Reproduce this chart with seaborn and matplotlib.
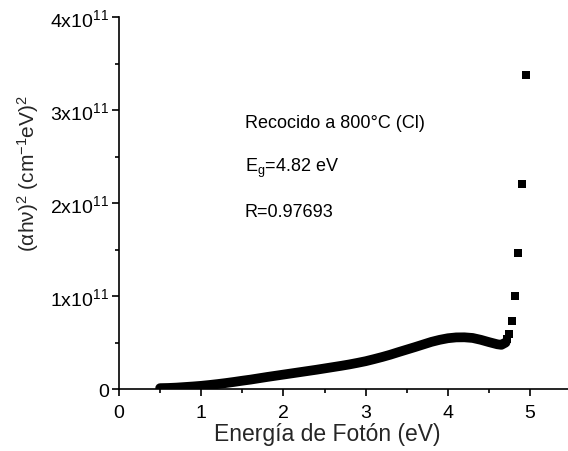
import matplotlib
matplotlib.use("Agg")
import matplotlib.pyplot as plt
import seaborn as sns
import pandas as pd
from matplotlib.ticker import MultipleLocator, FixedLocator, FixedFormatter

# Dense part of the curve (photon energy in eV, (alpha h nu)^2 in units of 1e11)
energy_dense = [0.5, 0.6, 0.7, 0.8, 0.9, 1.0, 1.1, 1.2, 1.3, 1.4, 1.5, 1.6, 1.7, 1.8,
                1.9, 2.0, 2.1, 2.2, 2.3, 2.4, 2.5, 2.6, 2.7, 2.8, 2.9, 3.0, 3.1, 3.2,
                3.3, 3.4, 3.5, 3.6, 3.7, 3.8, 3.9, 4.0, 4.1, 4.2, 4.3, 4.4, 4.5, 4.6,
                4.65, 4.7]
value_dense = [0.010, 0.012, 0.016, 0.022, 0.028, 0.035, 0.044, 0.054, 0.065, 0.077,
               0.090, 0.102, 0.116, 0.130, 0.143, 0.156, 0.169, 0.182, 0.195, 0.208,
               0.222, 0.236, 0.250, 0.265, 0.282, 0.300, 0.322, 0.345, 0.370, 0.398,
               0.425, 0.452, 0.480, 0.508, 0.530, 0.547, 0.556, 0.557, 0.550, 0.530,
               0.505, 0.482, 0.476, 0.500]
# Separated points near the absorption edge
energy_edge = [4.72, 4.748, 4.777, 4.818, 4.858, 4.899, 4.951]
value_edge = [0.535, 0.59, 0.735, 1.00, 1.464, 2.207, 3.38]

y_ticks = [0, 1e11, 2e11, 3e11, 4e11]
y_tick_labels = ["0", "1x10$^{11}$", "2x10$^{11}$", "3x10$^{11}$", "4x10$^{11}$"]
x_ticks = [0, 1, 2, 3, 4, 5]
annotations = ["Recocido a 800°C (Cl)", "E$_{g}$=4.82 eV", "R=0.97693"]

sns.set_style("ticks")
plt.rcParams["font.family"] = ["Liberation Sans", "DejaVu Sans"]
plt.rcParams["mathtext.fontset"] = "custom"
plt.rcParams["mathtext.rm"] = "Liberation Sans"
plt.rcParams["mathtext.it"] = "Liberation Sans"
plt.rcParams["mathtext.bf"] = "Liberation Sans:bold"
plt.rcParams["mathtext.default"] = "regular"

df_dense = pd.DataFrame({"E": energy_dense, "v": [v * 1e11 for v in value_dense]})
df_edge = pd.DataFrame({"E": energy_edge, "v": [v * 1e11 for v in value_edge]})

fig = plt.figure(figsize=(5.68, 4.52), dpi=100)
ax = fig.add_axes([0.2095, 0.137, 0.7905, 0.8225])

sns.lineplot(data=df_dense, x="E", y="v", ax=ax, color="black", linewidth=7,
             solid_capstyle="round", sort=False)
sns.scatterplot(data=df_edge, x="E", y="v", ax=ax, color="black", marker="s",
                s=26, linewidth=0)

ax.set_xlim(0, 5.46)
ax.set_ylim(0, 4e11)
ax.set_xticks(x_ticks)
ax.xaxis.set_minor_locator(MultipleLocator(0.5))
ax.yaxis.set_major_locator(FixedLocator(y_ticks))
ax.yaxis.set_major_formatter(FixedFormatter(y_tick_labels))
ax.yaxis.set_minor_locator(MultipleLocator(0.5e11))

for s in ["top", "right"]:
    ax.spines[s].set_visible(False)
for s in ["left", "bottom"]:
    ax.spines[s].set_linewidth(1.2)
    ax.spines[s].set_color("black")

ax.tick_params(axis="x", which="major", direction="out", length=5, width=1.2,
               labelsize=14, colors="black", pad=6)
ax.tick_params(axis="y", which="major", direction="out", length=5, width=1.2,
               labelsize=14, colors="black", pad=2)
ax.tick_params(which="minor", direction="out", length=3, width=1.2, colors="black")

ax.set_xlabel("Energía de Fotón (eV)", fontsize=16.5)
ax.set_ylabel("(αhν)$^{2}$ (cm$^{-1}$eV)$^{2}$", fontsize=15)
ax.xaxis.set_label_coords(0.464, -0.088)
ax.yaxis.set_label_coords(-0.174, 0.582)

ys = [2.865e11, 2.39e11, 1.91e11]
for txt, yv in zip(annotations, ys):
    ax.text(1.53, yv, txt, fontsize=13, va="center", ha="left", color="black")

fig.savefig("out.png", dpi=100, facecolor="white")
